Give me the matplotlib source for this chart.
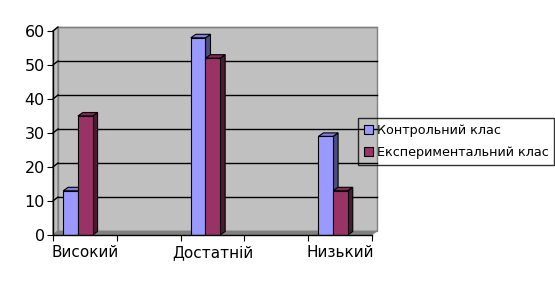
import matplotlib
matplotlib.use('Agg')
import matplotlib.pyplot as plt
from matplotlib.patches import Polygon, Rectangle

categories = ['Високий', 'Достатній', 'Низький']
control = [13, 58, 29]
experimental = [35, 52, 13]
series_names = ['Контрольний клас', 'Експериментальний клас']
yticks = [0, 10, 20, 30, 40, 50, 60]

W, H = 555, 285
fig = plt.figure(figsize=(W / 100, H / 100), dpi=100)
ax_l, ax_b, ax_w, ax_h = 53, 50, 319, 204
ax = fig.add_axes([ax_l / W, ax_b / H, ax_w / W, ax_h / H])
ax.set_xlim(-0.5, 4.5)
ax.set_ylim(0, 60)
ax.set_facecolor('none')

# pixel -> data units for the 3D depth
px_x = 5.0 / ax_w
px_y = 60.0 / ax_h
wall_dx, wall_dy = 5 * px_x, 4 * px_y
bar_dx, bar_dy = 5 * px_x, 3.5 * px_y

# walls and floor
ax.add_patch(Rectangle((-0.5 + wall_dx, wall_dy), 5, 60, facecolor='#C0C0C0',
                       edgecolor='#808080', lw=1, clip_on=False, zorder=0))
ax.add_patch(Polygon([(-0.5, 0), (-0.5, 60), (-0.5 + wall_dx, 60 + wall_dy), (-0.5 + wall_dx, wall_dy)],
                     closed=True, facecolor='#C0C0C0', edgecolor='#808080', lw=1, clip_on=False, zorder=0))
ax.add_patch(Polygon([(-0.5, 0), (4.5, 0), (4.5 + wall_dx, wall_dy), (-0.5 + wall_dx, wall_dy)],
                     closed=True, facecolor='#808080', edgecolor='#808080', lw=0.5, clip_on=False, zorder=0.5))
for y in yticks[1:]:
    c = 'black' if y < 60 else '#808080'
    ax.plot([-0.5 + wall_dx, 4.5 + wall_dx], [y + wall_dy, y + wall_dy], color=c, lw=1, clip_on=False, zorder=0.6)
    ax.plot([-0.5, -0.5 + wall_dx], [y, y + wall_dy], color='black', lw=1, clip_on=False, zorder=0.6)

front = ['#9999FF', '#993366']
top = ['#8080D9', '#7F2B55']
side = ['#4D4D80', '#4D1A33']
width = 0.23
offsets = [-0.34 + width / 2, -0.11 + width / 2]
for s, vals in enumerate([control, experimental]):
    for i, v in enumerate(vals):
        xc = 2 * i + offsets[s]
        x0, x1 = xc - width / 2, xc + width / 2
        ax.add_patch(Polygon([(x1, 0), (x1, v), (x1 + bar_dx, v + bar_dy), (x1 + bar_dx, bar_dy)],
                             closed=True, facecolor=side[s], edgecolor='black', lw=0.8, zorder=2, clip_on=False))
        ax.add_patch(Polygon([(x0, v), (x1, v), (x1 + bar_dx, v + bar_dy), (x0 + bar_dx, v + bar_dy)],
                             closed=True, facecolor=top[s], edgecolor='black', lw=0.8, zorder=2, clip_on=False))
    ax.bar([2 * i + offsets[s] for i in range(3)], vals, width=width, color=front[s],
           edgecolor='black', lw=0.8, zorder=3, label=series_names[s])

for sp in ['top', 'right']:
    ax.spines[sp].set_visible(False)
for sp in ['left', 'bottom']:
    ax.spines[sp].set_color('black')
    ax.spines[sp].set_linewidth(1)
    ax.spines[sp].set_zorder(4)

ax.set_yticks(yticks)
ax.set_xticks([-0.5, 0.5, 1.5, 2.5, 3.5, 4.5])
ax.set_xticklabels([])
ax.set_xticks([0, 2, 4], minor=True)
ax.set_xticklabels(categories, minor=True)
ax.tick_params(axis='x', which='minor', length=0, pad=7, labelsize=11)
ax.tick_params(axis='x', which='major', length=4, direction='out')
ax.tick_params(axis='y', length=4, direction='out', pad=2, labelsize=11.5)

leg = fig.legend(loc='upper left', bbox_to_anchor=(358 / W, 1 - 118 / H), borderaxespad=0,
                 fontsize=9.2, frameon=True, fancybox=False, handlelength=0.7, handleheight=0.7,
                 handletextpad=0.3, borderpad=0.45, labelspacing=0.75)
leg.get_frame().set_edgecolor('black')
leg.get_frame().set_facecolor('none')
leg.get_frame().set_linewidth(1)

fig.savefig('out.png', dpi=100)
